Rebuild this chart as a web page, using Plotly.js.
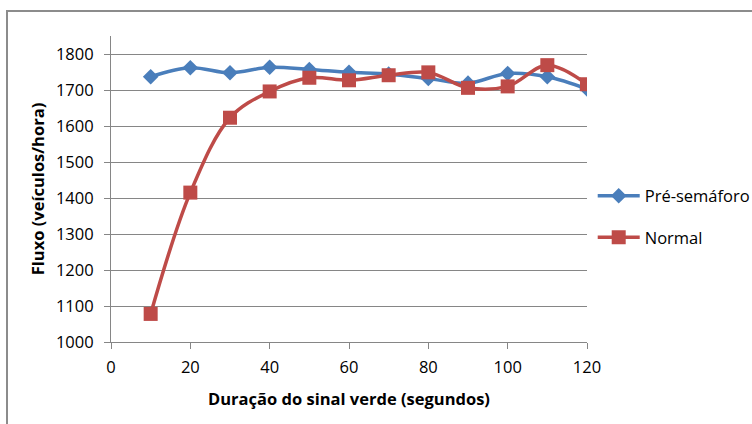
<!DOCTYPE html>
<html>
<head>
<meta charset="utf-8">
<script src="https://cdn.plot.ly/plotly-3.0.1.min.js"></script>
<style>
  html, body { margin: 0; padding: 0; background: #fff; overflow: hidden; }
  #wrap { position: relative; width: 752px; height: 424px; }
  #chart { width: 752px; height: 424px; }
  #frame { position: absolute; left: 6px; top: 10px; width: 760px; height: 430px;
           border-left: 2px solid #8c8c8c; border-top: 2px solid #8c8c8c; pointer-events: none; box-sizing: border-box; }
</style>
</head>
<body>
<div id="wrap">
  <div id="chart"></div>
  <div id="frame"></div>
</div>
<script>
const duracao = [10, 20, 30, 40, 50, 60, 70, 80, 90, 100, 110, 120];
const preSemaforo = [1737, 1762, 1748, 1763, 1757, 1749, 1744, 1732, 1719, 1746, 1737, 1703];
const normal = [1078, 1415, 1623, 1696, 1734, 1727, 1741, 1749, 1706, 1710, 1769, 1716];
const seriesNames = ['Pré-semáforo', 'Normal'];
const xTicks = [0, 20, 40, 60, 80, 100, 120];
const yTicks = [1000, 1100, 1200, 1300, 1400, 1500, 1600, 1700, 1800];

const fontFam = '"Open Sans", Lato, sans-serif';
const fs = 16.5;

const traces = [
  {
    x: duracao, y: preSemaforo, name: seriesNames[0], type: 'scatter', mode: 'lines+markers',
    legendgroup: 'a',
    line: { color: '#4A7EBB', width: 3.5, shape: 'spline', smoothing: 1 },
    marker: { symbol: 'diamond', size: 12, color: '#4A7EBB' }
  },
  {
    x: duracao, y: normal, name: seriesNames[1], type: 'scatter', mode: 'lines+markers',
    legendgroup: 'b',
    line: { color: '#BE4B48', width: 3.5, shape: 'spline', smoothing: 1 },
    marker: { symbol: 'square', size: 14, color: '#BE4B48' }
  }
];

const layout = {
  width: 752, height: 424,
  paper_bgcolor: '#ffffff', plot_bgcolor: '#ffffff',
  margin: { l: 111, r: 165, t: 36, b: 82, autoexpand: false },
  font: { family: fontFam, size: fs, color: '#000' },
  showlegend: true,
  legend: {
    x: 1.012, xanchor: 'left', y: 0.41, yanchor: 'middle',
    itemwidth: 42,
    font: { family: fontFam, size: fs, color: '#000' },
    tracegroupgap: 17, traceorder: 'grouped', bgcolor: 'rgba(0,0,0,0)'
  },
  xaxis: {
    range: [0, 120], tickvals: xTicks, ticktext: xTicks.map(String),
    showgrid: false, zeroline: false, showline: true, linecolor: '#868686', linewidth: 1,
    ticks: 'outside', ticklen: 6, tickcolor: '#868686',
    ticklabelstandoff: 4,
    tickfont: { family: fontFam, size: fs },
    title: { text: 'Duração do sinal verde (segundos)', font: { family: fontFam, size: fs, weight: 'bold' }, standoff: 16 }
  },
  yaxis: {
    range: [1000, 1850], tickvals: yTicks, ticktext: yTicks.map(String),
    showgrid: true, gridcolor: '#868686', gridwidth: 1, zeroline: false,
    showline: true, linecolor: '#868686', linewidth: 1,
    ticks: 'outside', ticklen: 6, tickcolor: '#868686',
    ticklabelstandoff: 7,
    tickfont: { family: fontFam, size: fs },
    title: { text: 'Fluxo (veículos/hora)', font: { family: fontFam, size: fs, weight: 'bold' }, standoff: 7 }
  }
};

Plotly.newPlot('chart', traces, layout, { staticPlot: true, displayModeBar: false });
</script>
</body>
</html>
